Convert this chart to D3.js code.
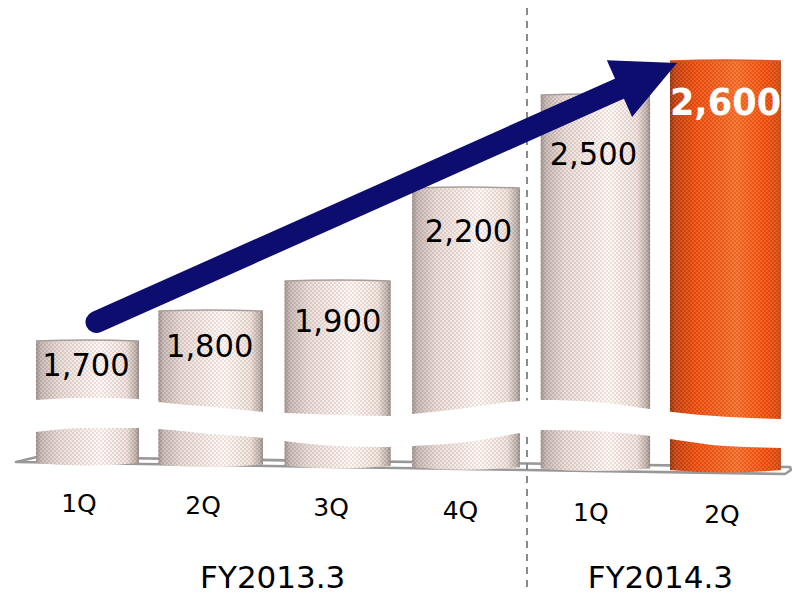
<!DOCTYPE html>
<html>
<head>
<meta charset="utf-8">
<script src="https://cdn.jsdelivr.net/npm/d3@7"></script>
<style>html,body{margin:0;padding:0;background:#fff}svg{display:block}text{font-family:"DejaVu Sans",Verdana,sans-serif}</style>
</head>
<body>
<script>
const categories = ["1Q","2Q","3Q","4Q","1Q","2Q"];
const values = [1700,1800,1900,2200,2500,2600];
const valueLabels = ["1,700","1,800","1,900","2,200","2,500","2,600"];
const periods = ["FY2013.3","FY2014.3"];
const periodBars = [[0,3],[4,5]];
const highlighted = [false,false,false,false,false,true];
// axis-break edges in value units, per bar: left, middle, right
const breakUpper = [[1507,1514,1510],[1501,1485,1469],[1465,1459,1456],[1462,1481,1504],[1507,1501,1478],[1469,1453,1446]];
const breakLower = [[1404,1417,1417],[1414,1398,1385],[1375,1359,1356],[1359,1372,1401],[1411,1407,1391],[1382,1359,1353]];

const W = 792, H = 595;
const svg = d3.select("body").append("svg").attr("width",W).attr("height",H).attr("viewBox",[0,0,W,H]);

// the drawing is in slight perspective, so neither axis is strictly uniform
const y = d3.scaleLinear().domain([1300,1700,1900,2500,2600]).range([464.4,340,280,94,60]);
const idx = d3.scalePow().exponent(1.022).domain([0,5]);
const lin = d3.scaleLinear().domain([0,5]);
const xL = idx.copy().range([36,670]);
const xR = idx.copy().range([139,781]);
const xM = i => (xL(i)+xR(i))/2;
const base = lin.copy().range([463,470]);
const tickY = lin.copy().range([512,523]);
const tickX = idx.copy().range([79,722]);

const defs = svg.append("defs");
function grad(id, stops){
  const g = defs.append("linearGradient").attr("id",id).attr("x1","0").attr("x2","1").attr("y1","0").attr("y2","0");
  stops.forEach(([o,c])=>g.append("stop").attr("offset",o).attr("stop-color",c));
}
grad("gLight",[[0,"#9a908d"],[0.05,"#c4b8b4"],[0.22,"#e6d9d4"],[0.62,"#fffaf6"],[0.88,"#eee2dc"],[0.97,"#baaea9"],[1,"#8f8682"]]);
grad("gHot",[[0,"#86300f"],[0.05,"#bd3f12"],[0.22,"#e84a10"],[0.6,"#f4702f"],[0.85,"#f0500f"],[0.97,"#d8480f"],[1,"#a5502f"]]);
function pattern(id, a, b){
  const p = defs.append("pattern").attr("id",id).attr("patternUnits","userSpaceOnUse").attr("width",4).attr("height",4);
  p.append("rect").attr("width",2).attr("height",2).attr("fill",a);
  p.append("rect").attr("x",2).attr("y",2).attr("width",2).attr("height",2).attr("fill",a);
  p.append("rect").attr("x",2).attr("width",2).attr("height",2).attr("fill",b);
  p.append("rect").attr("y",2).attr("width",2).attr("height",2).attr("fill",b);
}
pattern("pLight","rgba(150,95,85,0.16)","rgba(255,255,255,0.12)");
pattern("pHot","rgba(255,170,100,0.22)","rgba(190,50,0,0.16)");

// floor plate
svg.append("path")
  .attr("d", d3.line()([[16,462],[37,457],[790,467],[791,470],[785,474],[16,462]]) + "Z")
  .attr("fill","#fff").attr("stroke","#989898").attr("stroke-width",2.6).attr("stroke-linejoin","round");

// divider
svg.append("line").attr("x1",527).attr("x2",527).attr("y1",8).attr("y2",590)
  .attr("stroke","#8a8a8a").attr("stroke-width",2).attr("stroke-dasharray","7 6");

// bars
const barPath = (d,i) => {
  const l=xL(i), r=xR(i), t=y(d), b=base(i), m=(l+r)/2;
  return `M${l},${t+1}Q${m},${t-1} ${r},${t+1}L${r},${b}Q${m},${b+5} ${l},${b}Z`;
};
const bars = svg.append("g");
bars.selectAll(".fill").data(values).join("path").attr("class","fill").attr("d",barPath)
  .attr("fill",(d,i)=>highlighted[i]?"url(#gHot)":"url(#gLight)");
bars.selectAll(".tex").data(values).join("path").attr("class","tex").attr("d",barPath)
  .attr("fill",(d,i)=>highlighted[i]?"url(#pHot)":"url(#pLight)");
bars.selectAll(".cap").data(values).join("path").attr("class","cap")
  .attr("d",(d,i)=>{const l=xL(i),r=xR(i),t=y(d);return `M${l},${t+1}Q${(l+r)/2},${t-1} ${r},${t+1}`;})
  .attr("fill","none").attr("stroke",(d,i)=>highlighted[i]?"#d95a2a":"#a89f9b").attr("stroke-width",1.5);

// axis break band
const bandPts = [];
values.forEach((v,i)=>{
  [xL(i),xM(i),xR(i)].forEach((x,k)=>bandPts.push({x,u:y(breakUpper[i][k]),v:y(breakLower[i][k])}));
});
bandPts[0].x -= 0.5; bandPts[bandPts.length-1].x += 1;
const band = d3.area().x(d=>d.x).y0(d=>d.u).y1(d=>d.v).curve(d3.curveMonotoneX);
svg.append("path").attr("d",band(bandPts)).attr("fill","#fff");

// tick labels
svg.append("g").selectAll("text").data(categories).join("text")
  .attr("x",(d,i)=>tickX(i)).attr("y",(d,i)=>tickY(i))
  .attr("text-anchor","middle").attr("font-size",25).attr("fill","#000").text(d=>d);

// period labels
const periodX = periodBars.map(([a,b])=>(tickX(a)+tickX(b))/2);
svg.append("g").selectAll("text").data(periods).join("text")
  .attr("x",(d,i)=>periodX[i]+(i?4:3)).attr("y",587.5)
  .attr("text-anchor","middle").attr("font-size",31).attr("fill","#000").text(d=>d);

// growth arrow, tied to first and last bar
const start = [xM(0)+9, y(values[0])-18];
const tip = [xL(5)+7, y(values[5])+3];
const dx = tip[0]-start[0], dy = tip[1]-start[1], len = Math.hypot(dx,dy);
const u = [dx/len,dy/len], n = [-u[1],u[0]];
const headL = 63, headH = 31;
const neck = [tip[0]-u[0]*headL, tip[1]-u[1]*headL];
svg.append("line").attr("x1",start[0]).attr("y1",start[1]).attr("x2",neck[0]+u[0]*4).attr("y2",neck[1]+u[1]*4)
  .attr("stroke","#0d0d70").attr("stroke-width",22).attr("stroke-linecap","round");
svg.append("path").attr("fill","#0d0d70")
  .attr("d",d3.line()([tip,[neck[0]+n[0]*headH,neck[1]+n[1]*headH],[neck[0]-n[0]*headH,neck[1]-n[1]*headH]])+"Z");

// value labels: tall, slightly condensed glyphs as in the reference
const labelOffsetY = [36,47,52,55,71,55];
const labelOffsetX = [-1.5,-1,0,2.5,-2,0];
svg.append("g").selectAll("text").data(values).join("text")
  .attr("transform",(d,i)=>`translate(${xM(i)+labelOffsetX[i]},${y(d)+labelOffsetY[i]}) scale(${highlighted[i]?0.925:0.955},1)`)
  .attr("text-anchor","middle")
  .attr("font-size",(d,i)=>highlighted[i]?38:32)
  .attr("font-weight",(d,i)=>highlighted[i]?"bold":"normal")
  .attr("fill",(d,i)=>highlighted[i]?"#fff":"#000")
  .text((d,i)=>valueLabels[i]);
</script>
</body>
</html>
